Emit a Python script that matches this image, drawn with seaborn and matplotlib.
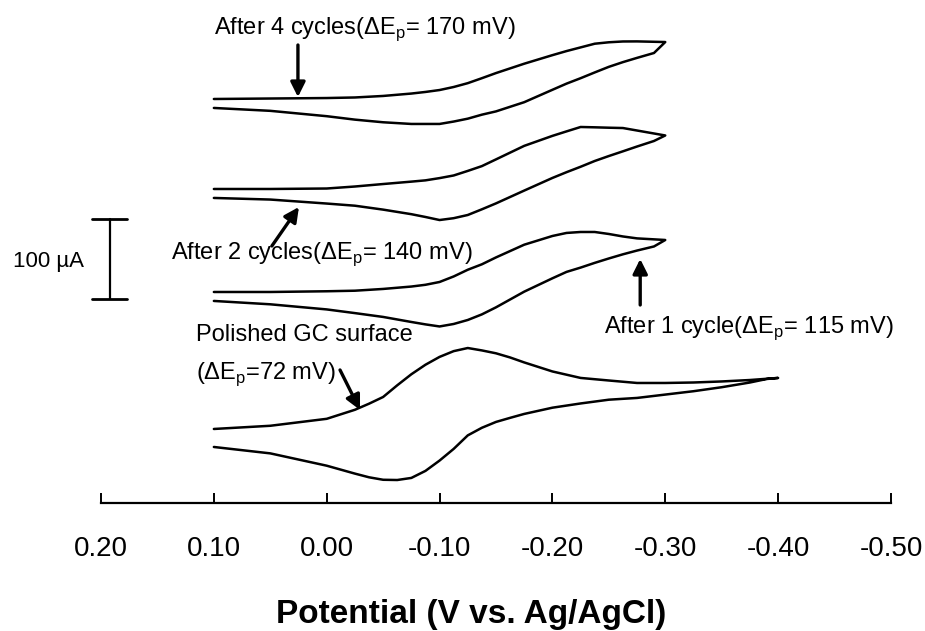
import numpy as np
import seaborn as sns
import matplotlib
matplotlib.use("Agg")
import matplotlib.pyplot as plt

# potentials (V vs. Ag/AgCl), forward (upper) and return (lower) branches
E_up = [0.10, 0.05, 0.00, -0.025, -0.05, -0.075, -0.0875, -0.10, -0.1125, -0.125,
        -0.1375, -0.15, -0.175, -0.20, -0.2125, -0.225, -0.2375, -0.25, -0.2625,
        -0.275, -0.30]
E_dn = E_up[:-1] + [-0.29]
E_up_pol = [0.10, 0.05, 0.00, -0.025, -0.0375, -0.05, -0.0625, -0.075, -0.0875,
            -0.10, -0.1125, -0.125, -0.1375, -0.15, -0.1625, -0.175, -0.20, -0.225,
            -0.25, -0.275, -0.30, -0.325, -0.35, -0.375, -0.40]
E_dn_pol = E_up_pol[:-1] + [-0.39]

# currents (uA), relative to the start of each scan
cyc4_up = [0, 0.6, 1.2, 1.9, 3.8, 6.8, 8.8, 11.2, 15.0, 19.8, 26.0, 32.4, 44.1,
           54.8, 59.9, 64.5, 69.1, 70.9, 71.9, 72.0, 71.2]
cyc4_dn = [-11.2, -14.8, -21.5, -25.8, -29.1, -31.2, -31.2, -31.2, -28.2, -24.6,
           -19.6, -15.5, -4.0, 11.5, 19.2, 26.0, 33.2, 40.2, 46.1, 51.4, 57.5]
cyc2_up = [0, 0, 0.6, 3.1, 6.2, 9.2, 10.8, 13.6, 16.9, 22.6, 28.6, 37.0, 53.9,
           66.4, 72.0, 77.5, 77.1, 76.6, 76.2, 73.1, 66.9]
cyc2_dn = [-11.2, -13.2, -18.2, -20.9, -25.8, -31.5, -35.0, -38.8, -36.5, -32.5,
           -25.4, -18.0, -2.0, 13.8, 21.0, 27.8, 35.0, 41.2, 47.1, 53.1, 60.0]
cyc1_up = [0, 0, 0.9, 1.6, 3.8, 6.8, 9.0, 12.5, 19.4, 27.8, 34.6, 43.2, 59.1,
           70.0, 73.8, 75.0, 75.0, 72.5, 69.4, 67.0, 65.0]
cyc1_dn = [-11.2, -15.4, -21.8, -26.4, -31.2, -37.5, -40.5, -43.1, -40.0, -35.0,
           -28.0, -19.2, 0.4, 17.1, 25.1, 30.5, 36.4, 41.9, 47.1, 51.8, 56.9]
pol_up = [0, 4.0, 12.7, 24.0, 31.6, 40.0, 54.6, 68.4, 80.3, 90.1, 97.3, 101.2,
          98.2, 94.6, 89.4, 83.2, 71.9, 63.8, 60.6, 57.5, 57.5, 58.1, 59.4, 61.2, 63.8]
pol_dn = [-22.5, -30.5, -45.9, -55.8, -60.4, -63.5, -63.8, -61.2, -52.4, -39.5,
          -24.9, -8.0, 1.5, 8.8, 13.9, 18.8, 26.6, 31.9, 36.6, 38.8, 43.0, 47.2,
          52.2, 58.1, 62.5]

# vertical display offsets (uA) used to stack the voltammograms
offsets = [505.0, 392.5, 263.75, 92.5]

x_ticks = [0.20, 0.10, 0.00, -0.10, -0.20, -0.30, -0.40, -0.50]
x_labels = ["0.20", "0.10", "0.00", "-0.10", "-0.20", "-0.30", "-0.40", "-0.50"]

sns.set_style("white")
plt.rcParams["font.family"] = ["Liberation Sans", "DejaVu Sans"]
plt.rcParams["text.color"] = "black"
plt.rcParams["xtick.color"] = "black"
plt.rcParams["axes.labelcolor"] = "black"

fig = plt.figure(figsize=(9.25, 6.31), dpi=100)
ax = fig.add_axes([0.1092, 0.2029, 0.854, 0.7971])

curves = [
    (E_up, cyc4_up, E_dn, cyc4_dn),
    (E_up, cyc2_up, E_dn, cyc2_dn),
    (E_up, cyc1_up, E_dn, cyc1_dn),
    (E_up_pol, pol_up, E_dn_pol, pol_dn),
]
for (eu, iu, ed, idn), off in zip(curves, offsets):
    x = np.concatenate([eu, ed[::-1]])
    y = np.concatenate([iu, idn[::-1]]) + off
    sns.lineplot(x=x, y=y, sort=False, estimator=None, color="black",
                 linewidth=1.8, ax=ax)

ax.set_xlim(0.20, -0.50)
ax.set_ylim(0, 628.75)
ax.set_xticks(x_ticks)
ax.set_xticklabels(x_labels)
ax.set_yticks([])
for side in ["top", "left", "right"]:
    ax.spines[side].set_visible(False)
ax.spines["bottom"].set_linewidth(1.6)
ax.spines["bottom"].set_color("black")
ax.tick_params(axis="x", bottom=True, direction="in", length=7, width=1.4,
               pad=24, labelsize=20, colors="black")
ax.set_xlabel("")
ax.set_ylabel("")

# scale bar
ax.plot([0.192, 0.192], [255, 355], color="black", lw=1.6, clip_on=False)
ax.plot([0.208, 0.177], [355, 355], color="black", lw=2, clip_on=False)
ax.plot([0.208, 0.177], [255, 255], color="black", lw=2, clip_on=False)
ax.text(0.2153, 295, "100 \u00b5A", ha="right", va="baseline", fontsize=16)

# annotations
fs = 17
ax.text(0.10, 586.25, "After 4 cycles(\u0394E$_\\mathregular{p}$= 170 mV)",
        fontsize=fs, va="baseline")
ax.text(0.138, 305, "After 2 cycles(\u0394E$_\\mathregular{p}$= 140 mV)",
        fontsize=fs, va="baseline")
ax.text(-0.2459, 212.5, "After 1 cycle(\u0394E$_\\mathregular{p}$= 115 mV)",
        fontsize=fs, va="baseline")
ax.text(0.116, 202.5, "Polished GC surface", fontsize=fs, va="baseline")
ax.text(0.116, 155, "(\u0394E$_\\mathregular{p}$=72 mV)", fontsize=fs, va="baseline")

arrow = dict(arrowstyle="-|>", color="black", lw=2.4, mutation_scale=22,
             shrinkA=0, shrinkB=0)
ax.annotate("", xy=(0.0255, 507.5), xytext=(0.0255, 572.5), arrowprops=arrow)
ax.annotate("", xy=(0.0246, 370), xytext=(0.0486, 321.25), arrowprops=arrow)
ax.annotate("", xy=(-0.2778, 305), xytext=(-0.2778, 247.5), arrowprops=arrow)
ax.annotate("", xy=(-0.0295, 116.25), xytext=(-0.0118, 166.25), arrowprops=arrow)

fig.text(471 / 925, 1 - 614 / 631, "Potential (V vs. Ag/AgCl)", ha="center",
         va="center", fontsize=24, fontweight="bold")

fig.savefig("out.png", dpi=100, facecolor="white")
